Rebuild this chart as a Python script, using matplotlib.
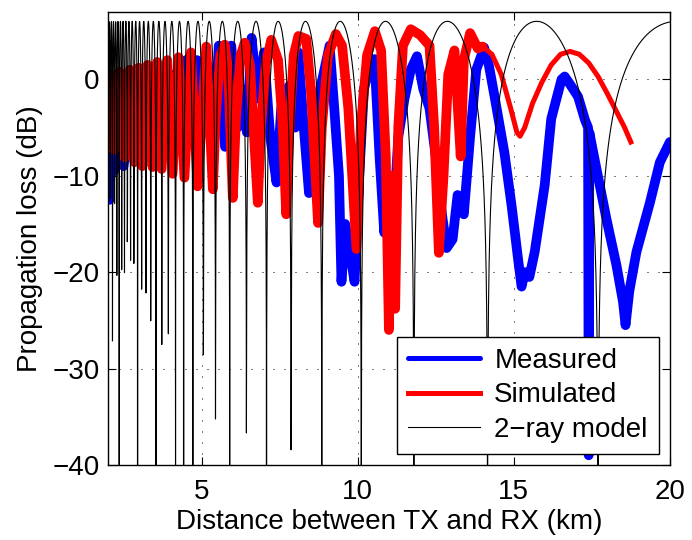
import numpy as np
import matplotlib
matplotlib.use("Agg")
import matplotlib.pyplot as plt

plt.rcParams['font.family'] = ['Liberation Sans', 'DejaVu Sans']

meas_km = [2.0, 2.05, 2.1, 2.2, 2.35, 2.5, 2.65, 2.8, 2.95, 3.05, 3.2, 3.35, 3.5, 3.65,
           3.8, 3.95, 4.1, 4.3, 4.5, 4.7, 4.85, 5.05, 5.2, 5.4, 5.55, 5.75, 5.95, 6.15,
           6.3, 6.45, 6.6, 6.8, 7.0, 7.2, 7.4, 7.55, 7.8, 8.0, 8.1, 8.25, 8.44, 8.6,
           8.8, 9.1, 9.25, 9.4, 9.48, 9.6, 9.75, 9.9, 10.05, 10.2, 10.4, 10.54, 10.7,
           10.85, 11.0, 11.15, 11.3, 11.5, 11.7, 11.9, 12.1, 12.3, 12.5, 12.7, 12.85,
           13.04, 13.2, 13.4, 13.6, 13.8, 14.05, 14.2, 14.38, 14.7, 14.93, 15.14, 15.25,
           15.35, 15.5, 15.67, 15.99, 16.2, 16.53, 16.63, 16.8, 17.06, 17.28, 17.38,
           17.40, 17.42, 17.65, 17.97, 18.29, 18.5, 18.58, 18.7, 18.93, 19.36, 19.68, 20.0]
meas_db = [-10, -12.5, -8, -9.5, -7.5, -9, -5, -7, -3, -6, -2, -5, -1, -5,
           -0.5, -4, 0.5, -4.5, 2, -3.5, 2, -5, 1.5, -6, 3.5, -7, 3.5, -5,
           -1, -5.5, 4.3, -2, 2.8, -6, -10.7, -3, -0.7, -5, 2.8, -4, -11.8, -6,
           -1, 3.5, -3, -10, -21, -15, -18, -21, -10, -1, 1.5, 2.1, -8,
           -15.9, -10, -14.5, -6, -2, 1, 2.4, -1, -3, -8, -14, -17.5,
           -16.6, -12, -14, -6, 1, 3.3, 1.5, -1.7, -7.6, -13.1, -18.7, -21.5,
           -20, -20.5, -17.9, -11, -4.1, 0.0, 0.3, -0.5, -1.8, -4.2, -5,
           -39, -5.5, -9.3, -14.5, -19.3, -23.1, -25.5, -22, -17.9, -12.8, -8.6, -6.5]

# simulated, noisy part (up to 14 km)
sim_km = [2.0, 2.1, 2.2, 2.37, 2.53, 2.7, 2.85, 2.98, 3.1, 3.27, 3.43, 3.58, 3.72, 3.9,
          4.07, 4.26, 4.45, 4.66, 4.87, 5.15, 5.36, 5.45, 5.6, 5.74, 5.85, 6.0, 6.1,
          6.25, 6.38, 6.55, 6.8, 6.9, 7.05, 7.23, 7.45, 7.6, 7.71, 7.8, 7.95, 8.1,
          8.35, 8.5, 8.73, 8.85, 9.05, 9.3, 9.5, 9.7, 9.96, 10.1, 10.3, 10.55, 10.75,
          10.9, 11.0, 11.1, 11.2, 11.3, 11.45, 11.7, 12.0, 12.3, 12.45, 12.6, 12.75,
          12.9, 13.1, 13.3, 13.4, 13.6, 13.85, 14.0]
sim_db = [-6.5, 0.5, -7.3, 0.8, -8.1, 1.0, -8.6, 1.2, -9.0, 1.5, -9.1, 1.8, -9.3, 2.0,
          -9.8, 2.3, -10.2, 2.8, -11.1, 3.4, -11.4, -4, 2.5, 3.6, 1, -12.3, -4,
          2.5, 3.8, 1.5, -12.8, -5, 1.5, 4.1, 2, -5, -14.0, -6, 2.5, 4.5,
          4.2, -1, -14.9, -5, 2.5, 4.7, 3.5, -3, -17.6, -5, 2.5, 5.0, 3,
          -8, -26, -10, -23.8, -5, 3.5, 5.2, 4.6, 3.5, -5, -18, -10,
          0.5, 3, -8, 2, 4.8, 3.2, 3.4]

# simulated, smooth part (14 km onwards)
sim2_km = [14.0, 14.3, 14.6, 14.9, 15.1, 15.2, 15.35, 15.6, 15.9, 16.2, 16.5, 16.8,
           17.1, 17.4, 17.7, 18.0, 18.3, 18.55, 18.75]
sim2_db = [3.4, 2.6, 0.5, -3, -5.5, -5.9, -5, -2.5, -0.3, 1.5, 2.6, 2.9,
           2.6, 1.7, 0.3, -1.5, -3.4, -5, -6.5]

# 2-ray model: nulls at d = D/n (D ~ 70.8 km)
null_scale_km = 70.8
ray_km = np.arange(2.0, 20.0001, 0.005)
ray_db = 20 * np.log10(np.abs(2 * np.sin(np.pi * null_scale_km / ray_km)) + 1e-12)

fig = plt.figure(figsize=(6.92, 5.4), dpi=100)
ax = fig.add_axes([0.156, 0.139, 0.812, 0.839])

ax.plot(meas_km, meas_db, color='#0000ff', lw=7, solid_joinstyle='round',
        solid_capstyle='round', label='Measured')
ax.plot(sim_km, sim_db, color='#ff0000', lw=7, solid_joinstyle='round',
        solid_capstyle='round')
ax.plot(sim2_km, sim2_db, color='#ff0000', lw=3.6, label='Simulated')
ax.plot(ray_km, ray_db, color='black', lw=0.8, label='2\u2212ray model')

ax.set_xlim(2, 20)
ax.set_ylim(-40, 7)
ax.set_xticks([5, 10, 15, 20])
ax.set_yticks([-40, -30, -20, -10, 0])
ax.tick_params(direction='in', top=True, right=True, labelsize=20, length=6, pad=6)
ax.tick_params(axis='x', pad=10)
ax.grid(True, color='black', lw=0.72, linestyle=(0, (1, 10)))
for s in ax.spines.values():
    s.set_linewidth(1.0)

ax.set_xlabel('Distance between TX and RX (km)', fontsize=20, labelpad=3)
ax.set_ylabel('Propagation loss (dB)', fontsize=20, labelpad=7)

leg = ax.legend(loc='lower right', fontsize=20, fancybox=False, framealpha=1,
                edgecolor='black', borderaxespad=0.4, handlelength=2.6,
                labelspacing=0.3, borderpad=0.4, handletextpad=0.5)
leg.get_frame().set_linewidth(1.0)
for ln in leg.get_lines()[:2]:
    ln.set_linewidth(3.6)

fig.savefig('out.png', dpi=100)
